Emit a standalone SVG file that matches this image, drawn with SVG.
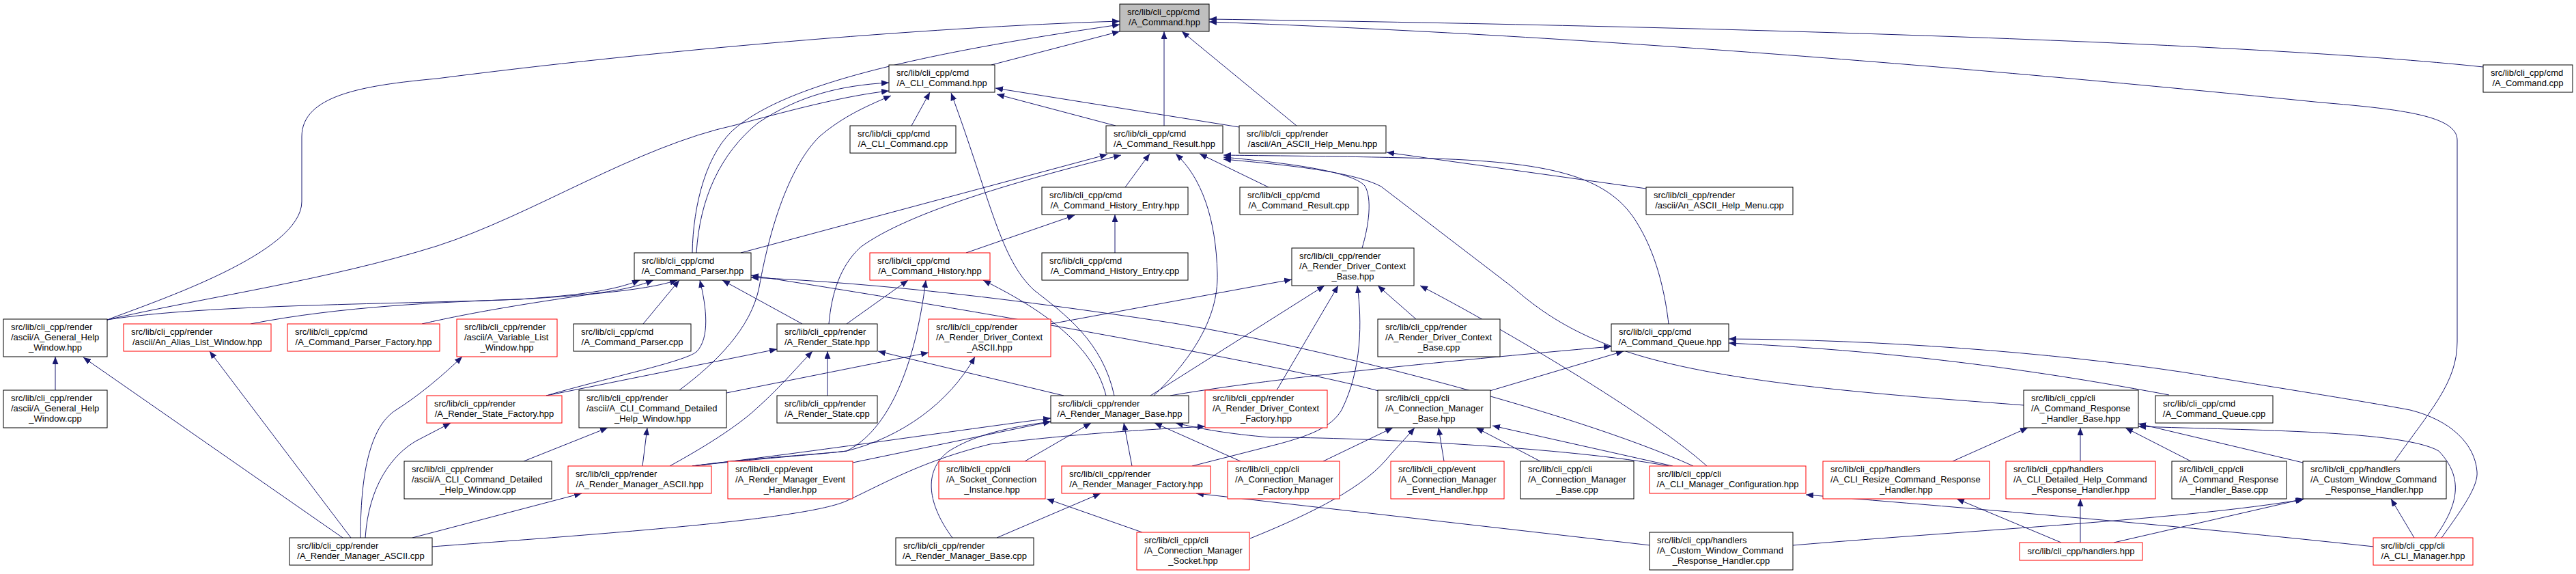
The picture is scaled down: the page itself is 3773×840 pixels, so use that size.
<svg xmlns="http://www.w3.org/2000/svg" width="3773" height="840" viewBox="0 0 3773 840">
<defs>
<style>
.n rect{fill:#fff;stroke:#000;stroke-width:1}
.n.r rect{stroke:#f00}
.n.g rect{fill:#bfbfbf}
text{font-family:"Liberation Sans",Arial,sans-serif;font-size:13px;fill:#000}
.m{text-anchor:middle}
#edges path{fill:none;stroke:#191970;stroke-width:1;marker-end:url(#a)}
</style>
<marker id="a" markerUnits="userSpaceOnUse" markerWidth="12" markerHeight="9" refX="11" refY="4.5" orient="auto"><path d="M0,0L11,4.5L0,9z" fill="#191970"/></marker>
</defs>
<rect width="3773" height="840" fill="#fff"/>
<g id="edges">
<path d="M157,468 C230,440 442,370 442,295 L442,200 C442,140 530,125 640,115 C950,75 1350,40 1640,31"/>
<path d="M1014,370 C1015,300 1035,220 1080,185 C1150,130 1300,85 1640,36"/>
<path d="M1452,95 L1640,46"/>
<path d="M1705,184 L1705,46"/>
<path d="M1899,184 L1731,46"/>
<path d="M3637,98 C3300,62 2500,38 1771,28"/>
<path d="M3507,675 C3560,600 3599,560 3599,500 L3599,205 C3599,170 3520,160 3400,150 C3000,110 2400,55 1771,32"/>
<path d="M1335,184 L1362,135"/>
<path d="M1020,370 C1025,290 1055,225 1110,180 C1170,140 1230,125 1302,121"/>
<path d="M157,468 C300,435 480,410 640,360 C780,315 930,215 1077,183 C1170,158 1240,140 1302,133"/>
<path d="M995,571 C1050,530 1100,480 1112,420 C1130,320 1160,240 1200,200 C1235,170 1270,155 1305,140"/>
<path d="M1632,579 C1615,500 1560,460 1515,425 C1465,380 1450,290 1393,136"/>
<path d="M1634,184 L1460,138"/>
<path d="M1815,186 L1458,129"/>
<path d="M1085,370 L1622,226"/>
<path d="M1214,474 C1218,430 1230,390 1260,362 C1330,310 1500,262 1642,227"/>
<path d="M1648,274 L1684,225"/>
<path d="M1690,579 C1740,530 1785,470 1783,400 C1781,320 1760,260 1722,225"/>
<path d="M1415,370 L1574,315"/>
<path d="M1633,370 L1633,314"/>
<path d="M1858,274 L1757,225"/>
<path d="M2444,474 C2440,440 2430,380 2400,330 C2360,260 2280,238 2100,232 C1950,228 1850,228 1792,227"/>
<path d="M1995,363 C2005,330 2010,290 1999,272 C1980,250 1880,238 1792,230"/>
<path d="M2964,593 C2800,580 2550,565 2400,520 C2300,490 2250,450 2215,420 L2023,273 C1980,250 1870,240 1792,233"/>
<path d="M2411,276 L2031,223"/>
<path d="M1685,579 L1940,418"/>
<path d="M1870,571 L1960,418"/>
<path d="M2074,467 L2018,418"/>
<path d="M1746,682 L1860,653 C1920,638 1950,625 1965,600 C1995,540 1995,470 1988,418"/>
<path d="M1539,474 L1892,409"/>
<path d="M2500,682 C2420,610 2200,480 2080,418"/>
<path d="M633,800 C900,780 1180,760 1240,733 C1300,705 1350,675 1450,650 C1600,632 1700,628 1765,624"/>
<path d="M502,787 L122,523"/>
<path d="M514,787 L307,514"/>
<path d="M528,787 C528,700 540,625 580,600 C615,578 650,548 677,522"/>
<path d="M535,787 C540,710 575,665 610,645 L660,619"/>
<path d="M604,787 L852,722"/>
<path d="M81,571 L81,522"/>
<path d="M157,468 C300,445 600,445 760,438 C850,432 900,425 937,410"/>
<path d="M367,474 C500,448 650,442 760,438 C870,432 920,425 957,410"/>
<path d="M618,474 C700,455 800,440 870,430 C920,425 960,420 992,410"/>
<path d="M942,474 L995,410"/>
<path d="M800,579 C900,550 1000,530 1020,515 C1040,495 1035,450 1025,410"/>
<path d="M1175,474 L1058,410"/>
<path d="M800,579 L1138,511"/>
<path d="M1212,579 L1212,514"/>
<path d="M1240,474 L1330,410"/>
<path d="M1558,579 L1286,514"/>
<path d="M1620,579 C1600,500 1520,450 1440,410"/>
<path d="M981,682 C1030,655 1070,630 1100,605 C1140,570 1165,540 1190,514"/>
<path d="M941,682 L948,626"/>
<path d="M767,675 L890,626"/>
<path d="M1064,575 L1360,516"/>
<path d="M1014,682 C1100,670 1200,665 1240,660 C1320,640 1390,590 1428,522"/>
<path d="M1014,682 C1100,672 1200,665 1240,660 C1300,630 1340,540 1356,410"/>
<path d="M1014,682 C1200,660 1400,630 1539,612"/>
<path d="M1249,677 L1539,617"/>
<path d="M1501,675 L1598,619"/>
<path d="M1658,682 L1646,619"/>
<path d="M1817,675 L1691,619"/>
<path d="M2444,682 C2300,655 2000,640 1860,640 C1800,635 1760,628 1722,619"/>
<path d="M1395,787 C1360,740 1350,690 1390,660 C1430,635 1480,625 1539,617"/>
<path d="M1460,787 L1612,722"/>
<path d="M1673,779 L1533,730"/>
<path d="M2417,798 L1752,722"/>
<path d="M1831,788 C1900,760 1990,720 2030,673 C2050,650 2060,640 2072,626"/>
<path d="M1938,675 L2040,626"/>
<path d="M2115,675 L2107,626"/>
<path d="M2256,675 L2162,626"/>
<path d="M2450,682 L2186,623"/>
<path d="M2182,572 L2378,514"/>
<path d="M1714,579 C1850,555 2100,530 2360,507"/>
<path d="M2019,572 C1900,540 1500,465 1100,403"/>
<path d="M2480,682 C2300,600 1900,500 1700,470 C1500,440 1300,415 1100,406"/>
<path d="M3177,578 C3000,545 2800,515 2532,502"/>
<path d="M3576,787 C3610,740 3630,710 3628,690 C3625,650 3590,615 3530,600 C3450,585 3350,570 3200,545 C3000,515 2750,497 2532,496"/>
<path d="M3566,787 C3600,740 3610,700 3572,660 C3520,630 3300,630 3132,624"/>
<path d="M3536,787 L3502,730"/>
<path d="M3477,800 C3200,770 2900,745 2645,724"/>
<path d="M2626,798 C2900,775 3200,760 3373,731"/>
<path d="M3096,794 L3375,730"/>
<path d="M3019,794 L2866,730"/>
<path d="M3047,794 L3047,730"/>
<path d="M2860,675 L2970,626"/>
<path d="M3047,675 L3047,626"/>
<path d="M3209,675 L3113,626"/>
<path d="M3373,677 L3132,620"/>
</g>
<g id="n0" class="n g"><rect x="1640" y="6" width="131" height="40"/><text x="1651" y="22">src/lib/cli_cpp/cmd</text><text class="m" x="1705.5" y="36.5">/A_Command.hpp</text></g>
<g id="n1" class="n"><rect x="1302" y="95" width="155" height="40"/><text x="1313" y="111">src/lib/cli_cpp/cmd</text><text class="m" x="1379.5" y="125.5">/A_CLI_Command.hpp</text></g>
<g id="n2" class="n"><rect x="3637" y="95" width="131" height="40"/><text x="3648" y="111">src/lib/cli_cpp/cmd</text><text class="m" x="3702.5" y="125.5">/A_Command.cpp</text></g>
<g id="n3" class="n"><rect x="1245" y="184" width="155" height="40"/><text x="1256" y="200">src/lib/cli_cpp/cmd</text><text class="m" x="1322.5" y="214.5">/A_CLI_Command.cpp</text></g>
<g id="n4" class="n"><rect x="1620" y="184" width="171" height="40"/><text x="1631" y="200">src/lib/cli_cpp/cmd</text><text class="m" x="1705.5" y="214.5">/A_Command_Result.hpp</text></g>
<g id="n5" class="n"><rect x="1815" y="184" width="215" height="40"/><text x="1826" y="200">src/lib/cli_cpp/render</text><text class="m" x="1922.5" y="214.5">/ascii/An_ASCII_Help_Menu.hpp</text></g>
<g id="n6" class="n"><rect x="1526" y="274" width="214" height="40"/><text x="1537" y="290">src/lib/cli_cpp/cmd</text><text class="m" x="1633" y="304.5">/A_Command_History_Entry.hpp</text></g>
<g id="n7" class="n"><rect x="1816" y="274" width="173" height="40"/><text x="1827" y="290">src/lib/cli_cpp/cmd</text><text class="m" x="1902.5" y="304.5">/A_Command_Result.cpp</text></g>
<g id="n8" class="n"><rect x="2411" y="274" width="215" height="40"/><text x="2422" y="290">src/lib/cli_cpp/render</text><text class="m" x="2518.5" y="304.5">/ascii/An_ASCII_Help_Menu.cpp</text></g>
<g id="n9" class="n"><rect x="929" y="370" width="171" height="40"/><text x="940" y="386">src/lib/cli_cpp/cmd</text><text class="m" x="1014.5" y="400.5">/A_Command_Parser.hpp</text></g>
<g id="n10" class="n r"><rect x="1274" y="370" width="176" height="40"/><text x="1285" y="386">src/lib/cli_cpp/cmd</text><text class="m" x="1362" y="400.5">/A_Command_History.hpp</text></g>
<g id="n11" class="n"><rect x="1526" y="370" width="214" height="40"/><text x="1537" y="386">src/lib/cli_cpp/cmd</text><text class="m" x="1633" y="400.5">/A_Command_History_Entry.cpp</text></g>
<g id="n12" class="n"><rect x="1892" y="363" width="179" height="55"/><text x="1903" y="379">src/lib/cli_cpp/render</text><text x="1903" y="393.5">/A_Render_Driver_Context</text><text class="m" x="1981.5" y="408.5">_Base.hpp</text></g>
<g id="n13" class="n"><rect x="5" y="467" width="152" height="55"/><text x="16" y="483">src/lib/cli_cpp/render</text><text x="16" y="497.5">/ascii/A_General_Help</text><text class="m" x="81" y="512.5">_Window.hpp</text></g>
<g id="n14" class="n r"><rect x="181" y="474" width="216" height="40"/><text x="192" y="490">src/lib/cli_cpp/render</text><text class="m" x="289" y="504.5">/ascii/An_Alias_List_Window.hpp</text></g>
<g id="n15" class="n r"><rect x="421" y="474" width="223" height="40"/><text x="432" y="490">src/lib/cli_cpp/cmd</text><text class="m" x="532.5" y="504.5">/A_Command_Parser_Factory.hpp</text></g>
<g id="n16" class="n r"><rect x="669" y="467" width="147" height="55"/><text x="680" y="483">src/lib/cli_cpp/render</text><text x="680" y="497.5">/ascii/A_Variable_List</text><text class="m" x="742.5" y="512.5">_Window.hpp</text></g>
<g id="n17" class="n"><rect x="840" y="474" width="172" height="40"/><text x="851" y="490">src/lib/cli_cpp/cmd</text><text class="m" x="926" y="504.5">/A_Command_Parser.cpp</text></g>
<g id="n18" class="n"><rect x="1138" y="474" width="147" height="40"/><text x="1149" y="490">src/lib/cli_cpp/render</text><text class="m" x="1211.5" y="504.5">/A_Render_State.hpp</text></g>
<g id="n19" class="n r"><rect x="1360" y="467" width="179" height="55"/><text x="1371" y="483">src/lib/cli_cpp/render</text><text x="1371" y="497.5">/A_Render_Driver_Context</text><text class="m" x="1449.5" y="512.5">_ASCII.hpp</text></g>
<g id="n20" class="n"><rect x="2018" y="467" width="179" height="55"/><text x="2029" y="483">src/lib/cli_cpp/render</text><text x="2029" y="497.5">/A_Render_Driver_Context</text><text class="m" x="2107.5" y="512.5">_Base.cpp</text></g>
<g id="n21" class="n"><rect x="2360" y="474" width="172" height="40"/><text x="2371" y="490">src/lib/cli_cpp/cmd</text><text class="m" x="2446" y="504.5">/A_Command_Queue.hpp</text></g>
<g id="n22" class="n"><rect x="5" y="571" width="152" height="55"/><text x="16" y="587">src/lib/cli_cpp/render</text><text x="16" y="601.5">/ascii/A_General_Help</text><text class="m" x="81" y="616.5">_Window.cpp</text></g>
<g id="n23" class="n r"><rect x="625" y="579" width="198" height="40"/><text x="636" y="595">src/lib/cli_cpp/render</text><text class="m" x="724" y="609.5">/A_Render_State_Factory.hpp</text></g>
<g id="n24" class="n"><rect x="848" y="571" width="216" height="55"/><text x="859" y="587">src/lib/cli_cpp/render</text><text x="859" y="601.5">/ascii/A_CLI_Command_Detailed</text><text class="m" x="956" y="616.5">_Help_Window.hpp</text></g>
<g id="n25" class="n"><rect x="1138" y="579" width="147" height="40"/><text x="1149" y="595">src/lib/cli_cpp/render</text><text class="m" x="1211.5" y="609.5">/A_Render_State.cpp</text></g>
<g id="n26" class="n"><rect x="1539" y="579" width="202" height="40"/><text x="1550" y="595">src/lib/cli_cpp/render</text><text class="m" x="1640" y="609.5">/A_Render_Manager_Base.hpp</text></g>
<g id="n27" class="n r"><rect x="1765" y="571" width="179" height="55"/><text x="1776" y="587">src/lib/cli_cpp/render</text><text x="1776" y="601.5">/A_Render_Driver_Context</text><text class="m" x="1854.5" y="616.5">_Factory.hpp</text></g>
<g id="n28" class="n"><rect x="2018" y="571" width="165" height="55"/><text x="2029" y="587">src/lib/cli_cpp/cli</text><text x="2029" y="601.5">/A_Connection_Manager</text><text class="m" x="2100.5" y="616.5">_Base.hpp</text></g>
<g id="n29" class="n"><rect x="2964" y="571" width="168" height="55"/><text x="2975" y="587">src/lib/cli_cpp/cli</text><text x="2975" y="601.5">/A_Command_Response</text><text class="m" x="3048" y="616.5">_Handler_Base.hpp</text></g>
<g id="n30" class="n"><rect x="3157" y="579" width="172" height="40"/><text x="3168" y="595">src/lib/cli_cpp/cmd</text><text class="m" x="3243" y="609.5">/A_Command_Queue.cpp</text></g>
<g id="n31" class="n"><rect x="592" y="675" width="216" height="55"/><text x="603" y="691">src/lib/cli_cpp/render</text><text x="603" y="705.5">/ascii/A_CLI_Command_Detailed</text><text class="m" x="700" y="720.5">_Help_Window.cpp</text></g>
<g id="n32" class="n r"><rect x="832" y="682" width="210" height="40"/><text x="843" y="698">src/lib/cli_cpp/render</text><text class="m" x="937" y="712.5">/A_Render_Manager_ASCII.hpp</text></g>
<g id="n33" class="n r"><rect x="1066" y="675" width="183" height="55"/><text x="1077" y="691">src/lib/cli_cpp/event</text><text x="1077" y="705.5">/A_Render_Manager_Event</text><text class="m" x="1157.5" y="720.5">_Handler.hpp</text></g>
<g id="n34" class="n r"><rect x="1375" y="675" width="156" height="55"/><text x="1386" y="691">src/lib/cli_cpp/cli</text><text x="1386" y="705.5">/A_Socket_Connection</text><text class="m" x="1453" y="720.5">_Instance.hpp</text></g>
<g id="n35" class="n r"><rect x="1555" y="682" width="218" height="40"/><text x="1566" y="698">src/lib/cli_cpp/render</text><text class="m" x="1664" y="712.5">/A_Render_Manager_Factory.hpp</text></g>
<g id="n36" class="n r"><rect x="1798" y="675" width="164" height="55"/><text x="1809" y="691">src/lib/cli_cpp/cli</text><text x="1809" y="705.5">/A_Connection_Manager</text><text class="m" x="1880" y="720.5">_Factory.hpp</text></g>
<g id="n37" class="n r"><rect x="2037" y="675" width="166" height="55"/><text x="2048" y="691">src/lib/cli_cpp/event</text><text x="2048" y="705.5">/A_Connection_Manager</text><text class="m" x="2120" y="720.5">_Event_Handler.hpp</text></g>
<g id="n38" class="n"><rect x="2227" y="675" width="166" height="55"/><text x="2238" y="691">src/lib/cli_cpp/cli</text><text x="2238" y="705.5">/A_Connection_Manager</text><text class="m" x="2310" y="720.5">_Base.cpp</text></g>
<g id="n39" class="n r"><rect x="2416" y="682" width="229" height="40"/><text x="2427" y="698">src/lib/cli_cpp/cli</text><text class="m" x="2530.5" y="712.5">/A_CLI_Manager_Configuration.hpp</text></g>
<g id="n40" class="n r"><rect x="2670" y="675" width="244" height="55"/><text x="2681" y="691">src/lib/cli_cpp/handlers</text><text x="2681" y="705.5">/A_CLI_Resize_Command_Response</text><text class="m" x="2792" y="720.5">_Handler.hpp</text></g>
<g id="n41" class="n r"><rect x="2938" y="675" width="219" height="55"/><text x="2949" y="691">src/lib/cli_cpp/handlers</text><text x="2949" y="705.5">/A_CLI_Detailed_Help_Command</text><text class="m" x="3047.5" y="720.5">_Response_Handler.hpp</text></g>
<g id="n42" class="n"><rect x="3181" y="675" width="168" height="55"/><text x="3192" y="691">src/lib/cli_cpp/cli</text><text x="3192" y="705.5">/A_Command_Response</text><text class="m" x="3265" y="720.5">_Handler_Base.cpp</text></g>
<g id="n43" class="n"><rect x="3373" y="675" width="210" height="55"/><text x="3384" y="691">src/lib/cli_cpp/handlers</text><text x="3384" y="705.5">/A_Custom_Window_Command</text><text class="m" x="3478" y="720.5">_Response_Handler.hpp</text></g>
<g id="n44" class="n"><rect x="424" y="787" width="209" height="40"/><text x="435" y="803">src/lib/cli_cpp/render</text><text class="m" x="528.5" y="817.5">/A_Render_Manager_ASCII.cpp</text></g>
<g id="n45" class="n"><rect x="1312" y="787" width="202" height="40"/><text x="1323" y="803">src/lib/cli_cpp/render</text><text class="m" x="1413" y="817.5">/A_Render_Manager_Base.cpp</text></g>
<g id="n46" class="n r"><rect x="1665" y="779" width="165" height="55"/><text x="1676" y="795">src/lib/cli_cpp/cli</text><text x="1676" y="809.5">/A_Connection_Manager</text><text class="m" x="1747.5" y="824.5">_Socket.hpp</text></g>
<g id="n47" class="n"><rect x="2416" y="779" width="210" height="55"/><text x="2427" y="795">src/lib/cli_cpp/handlers</text><text x="2427" y="809.5">/A_Custom_Window_Command</text><text class="m" x="2521" y="824.5">_Response_Handler.cpp</text></g>
<g id="n48" class="n r"><rect x="2958" y="794" width="180" height="26"/><text class="m" x="3048" y="811">src/lib/cli_cpp/handlers.hpp</text></g>
<g id="n49" class="n r"><rect x="3476" y="787" width="146" height="40"/><text x="3487" y="803">src/lib/cli_cpp/cli</text><text class="m" x="3549" y="817.5">/A_CLI_Manager.hpp</text></g>
</svg>
